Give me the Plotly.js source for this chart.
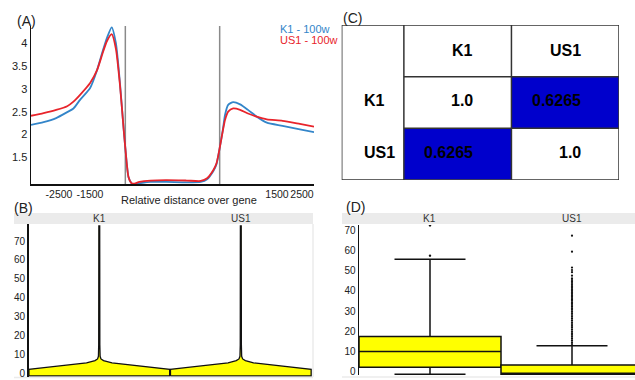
<!DOCTYPE html>
<html><head><meta charset="utf-8">
<script src="https://cdn.plot.ly/plotly-3.0.1.min.js"></script>
<style>html,body{margin:0;padding:0;background:#fff}#chart{width:635px;height:380px}</style>
</head><body><div id="chart"></div>
<script>
// ---------- Panel A: profile over gene ----------
const profileX = [-3000, -2600, -2200, -1850, -1650, -1440, -1120, -900, -710, -583, -434, -300, -170, -60, 0, 100, 200, 260, 450, 800, 1300, 1950, 2400, 2600, 2800, 2900, 3000, 3100, 3170, 3270, 3430, 3650, 3900, 4180, 4500, 5000, 5550, 6000];
const k1Profile = [2.21, 2.27, 2.36, 2.49, 2.57, 2.76, 3.02, 3.41, 3.85, 4.12, 4.35, 4.0, 3.12, 2.17, 1.70, 1.07, 0.93, 0.91, 0.93, 0.96, 0.96, 0.95, 0.96, 1.02, 1.20, 1.35, 1.70, 2.10, 2.43, 2.65, 2.71, 2.66, 2.54, 2.39, 2.26, 2.19, 2.11, 2.05];
const us1Profile = [2.41, 2.47, 2.54, 2.62, 2.72, 2.87, 3.13, 3.41, 3.81, 4.05, 4.20, 3.88, 3.08, 2.17, 1.70, 1.07, 0.93, 0.92, 0.96, 0.99, 1.00, 0.99, 0.98, 1.04, 1.22, 1.37, 1.70, 2.08, 2.32, 2.50, 2.57, 2.54, 2.46, 2.39, 2.33, 2.30, 2.23, 2.17];
const geneBounds = [0, 3000];
const profileTickVals = [-2110, -1124, 4824, 5619];
const profileTickText = ['-2500', '-1500', '1500', '2500'];
const profileYTicks = [1.5, 2, 2.5, 3, 3.5, 4];
const profileYText = ['1.5', '2', '2.5', '3', '3.5', '4'];
const seriesNames = ['K1 - 100w', 'US1 - 100w'];
const profileXTitle = 'Relative distance over gene';

// ---------- Panel B: violins ----------
const groups = ['K1', 'US1'];
const violinLevels = [-1.4, 2.1, 3.0, 4.2, 5.5, 6.7, 7.6, 9, 15, 78];
const k1ViolinHalfWidth = [0.497, 0.497, 0.39, 0.235, 0.09, 0.03, 0.012, 0.006, 0.004, 0.003];
const us1ViolinHalfWidth = [0.497, 0.497, 0.39, 0.235, 0.09, 0.032, 0.013, 0.006, 0.004, 0.003];
const countTicks = [0, 10, 20, 30, 40, 50, 60, 70];

// ---------- Panel C: correlation table ----------
const corrLabels = ['K1', 'US1'];
const corrMatrix = [[1.0, 0.6265], [0.6265, 1.0]];
const corrText = [['1.0', '0.6265'], ['0.6265', '1.0']];

// ---------- Panel D: boxplots ----------
const boxLower = [-1.3, -1.3];
const boxQ1 = [2.2, -1.3];
const boxMedian = [10, -0.9];
const boxQ3 = [17.5, 3.3];
const boxUpper = [55.7, 12.9];
const k1Outliers = [57.5, 72.5];
const us1Outliers = [67.4, 59.5, 51.6, 50.4, 49.3, 47.6, 46.2, 45.4, 44.6, 43.9, 43.1, 42.4, 41.6, 40.9, 40.1, 39.4, 38.6, 37.9, 37.2, 36.5, 35.8, 35.1, 34.4, 33.7, 33.0, 32.3, 31.5, 30.7, 29.9, 29.0, 28.1, 27.2, 26.3, 25.4, 24.5, 23.6, 22.7, 21.8, 20.9, 20.0, 19.1, 18.2, 17.3, 16.4, 15.5, 14.6, 13.7];

// ---------- helpers ----------
const W = 635, H = 380;
const px = v => v / W;
const py = v => 1 - v / H;
const FONT = 'Liberation Sans, Arial, sans-serif';
const BLUE = '#3385C9', RED = '#E8242B', YEL = '#FFFF00';

function violinPolygon(center, hw) {
  const xs = [], ys = [];
  for (let i = 0; i < violinLevels.length; i++) { xs.push(center - hw[i]); ys.push(violinLevels[i]); }
  for (let i = violinLevels.length - 1; i >= 0; i--) { xs.push(center + hw[i]); ys.push(violinLevels[i]); }
  xs.push(xs[0]); ys.push(ys[0]);
  return {xs, ys};
}

const traces = [];
// A
traces.push({type: 'scatter', mode: 'lines', x: profileX, y: k1Profile, name: seriesNames[0],
  line: {color: BLUE, width: 1.8, shape: 'spline', smoothing: 0.6}, xaxis: 'x', yaxis: 'y', hoverinfo: 'skip'});
traces.push({type: 'scatter', mode: 'lines', x: profileX, y: us1Profile, name: seriesNames[1],
  line: {color: RED, width: 1.8, shape: 'spline', smoothing: 0.6}, xaxis: 'x', yaxis: 'y', hoverinfo: 'skip'});
// B
[k1ViolinHalfWidth, us1ViolinHalfWidth].forEach((hw, i) => {
  const p = violinPolygon(i, hw);
  traces.push({type: 'scatter', mode: 'lines', x: p.xs, y: p.ys, fill: 'toself', fillcolor: YEL,
    line: {color: '#111', width: 1.3}, xaxis: 'x2', yaxis: 'y2', hoverinfo: 'skip', name: groups[i]});
});
// C
traces.push({type: 'heatmap', x: [0, 1], y: [0, 1], z: corrMatrix, zmin: 0.6265, zmax: 1,
  colorscale: [[0, '#0000CC'], [1, '#FFFFFF']], showscale: false, xaxis: 'x4', yaxis: 'y4', hoverinfo: 'skip'});
// D
traces.push({type: 'box', x: [0, 1], q1: boxQ1, median: boxMedian, q3: boxQ3, lowerfence: boxLower, upperfence: boxUpper,
  width: 1, whiskerwidth: 0.5, boxpoints: false, fillcolor: YEL, line: {color: '#111', width: 1.5},
  xaxis: 'x3', yaxis: 'y3', hoverinfo: 'skip'});
traces.push({type: 'scatter', mode: 'markers', x: k1Outliers.map(() => 0), y: k1Outliers,
  marker: {color: '#111', size: 2.4}, xaxis: 'x3', yaxis: 'y3', hoverinfo: 'skip'});
traces.push({type: 'scatter', mode: 'markers', x: us1Outliers.map(() => 1), y: us1Outliers,
  marker: {color: '#111', size: 2.2}, xaxis: 'x3', yaxis: 'y3', hoverinfo: 'skip'});

const annotations = [];
const shapes = [];
// panel letters
[['(A)', 15, 20.7], ['(B)', 12, 208], ['(C)', 340.7, 18], ['(D)', 344, 207]].forEach(a => {
  annotations.push({text: a[0], xref: 'paper', yref: 'paper', x: px(a[1]), y: py(a[2]), xanchor: 'left', yanchor: 'middle',
    showarrow: false, font: {family: FONT, size: 14, color: '#222'}});
});
// A axis title (placed precisely under the axis)
annotations.push({text: profileXTitle, xref: 'paper', yref: 'paper', x: px(189), y: py(199.5), xanchor: 'center', yanchor: 'middle',
  showarrow: false, font: {family: FONT, size: 11, color: '#222'}});
// legend A
annotations.push({text: seriesNames[0], xref: 'paper', yref: 'paper', x: px(278), y: py(29), xanchor: 'left', yanchor: 'middle', showarrow: false, font: {family: FONT, size: 11, color: BLUE}});
annotations.push({text: seriesNames[1], xref: 'paper', yref: 'paper', x: px(278), y: py(40), xanchor: 'left', yanchor: 'middle', showarrow: false, font: {family: FONT, size: 11, color: RED}});
// gene boundaries
geneBounds.forEach(g => shapes.push({type: 'line', xref: 'x', yref: 'y domain', x0: g, x1: g, y0: 0, y1: 1, line: {color: '#8a8a8a', width: 1.5}, layer: 'below'}));
// strips B and D
shapes.push({type: 'rect', xref: 'paper', yref: 'paper', x0: px(14), x1: px(313), y0: py(224), y1: py(213), fillcolor: '#EBEBEB', line: {width: 0}, layer: 'below'});
shapes.push({type: 'rect', xref: 'paper', yref: 'paper', x0: px(342), x1: 1, y0: py(224), y1: py(213), fillcolor: '#EBEBEB', line: {width: 0}, layer: 'below'});
shapes.push({type: 'line', xref: 'paper', yref: 'paper', x0: px(313), x1: px(313), y0: py(224), y1: py(377), line: {color: '#EBEBEB', width: 1.5}, layer: 'below'});
shapes.push({type: 'line', xref: 'paper', yref: 'paper', x0: px(14), x1: px(313), y0: py(377.5), y1: py(377.5), line: {color: '#EBEBEB', width: 1.5}, layer: 'below'});
shapes.push({type: 'line', xref: 'paper', yref: 'paper', x0: px(342), x1: 1, y0: py(377), y1: py(377), line: {color: '#EBEBEB', width: 1.5}, layer: 'below'});
groups.forEach((g, i) => {
  annotations.push({text: g, xref: 'x2', yref: 'paper', x: i, y: py(218.5), yanchor: 'middle', showarrow: false, font: {family: FONT, size: 10, color: '#333'}});
  annotations.push({text: g, xref: 'x3', yref: 'paper', x: i, y: py(218.5), yanchor: 'middle', showarrow: false, font: {family: FONT, size: 10, color: '#333'}});
});
// table C
const tL = -1.078, tR = 1.5, tT = -1.5, tB = 1.5;
const bl = {color: '#333', width: 1.5};
shapes.push({type: 'rect', xref: 'x4', yref: 'y4', x0: tL, x1: tR, y0: tT, y1: tB, line: bl, layer: 'above'});
[-0.5, 0.5].forEach(v => shapes.push({type: 'line', xref: 'x4', yref: 'y4', x0: v, x1: v, y0: tT, y1: tB, line: bl, layer: 'above'}));
[-0.5, 0.5].forEach(v => shapes.push({type: 'line', xref: 'x4', yref: 'y4', x0: -0.5, x1: tR, y0: v, y1: v, line: bl, layer: 'above'}));
const tf = {family: FONT, size: 16, color: '#000'};
corrLabels.forEach((lab, j) => {
  annotations.push({text: '<b>' + lab + '</b>', xref: 'x4', yref: 'y4', x: j + 0.165, y: -1, xanchor: 'right', yanchor: 'middle', showarrow: false, font: tf});
  annotations.push({text: '<b>' + lab + '</b>', xref: 'x4', yref: 'y4', x: tL + 0.185, y: j - 0.03, xanchor: 'left', yanchor: 'middle', showarrow: false, font: tf});
});
corrText.forEach((row, r) => row.forEach((t, c) => {
  annotations.push({text: '<b>' + t + '</b>', xref: 'x4', yref: 'y4', x: c + 0.165, y: r - 0.03, xanchor: 'right', yanchor: 'middle', showarrow: false, font: tf});
}));

const tickFont = {family: FONT, size: 10, color: '#222'};
const layout = {
  width: W, height: H, margin: {l: 0, r: 0, t: 0, b: 0}, showlegend: false,
  paper_bgcolor: '#fff', plot_bgcolor: 'rgba(0,0,0,0)', font: {family: FONT},
  xaxis: {domain: [px(31), px(314)], range: [-3000, 6000], anchor: 'y', tickvals: profileTickVals, ticktext: profileTickText, tickangle: 0,
    showline: true, linecolor: '#111', linewidth: 1.5, ticks: '', showgrid: false, zeroline: false, tickfont: {family: FONT, size: 10.5, color: '#222'}},
  yaxis: {domain: [py(184), py(26)], range: [0.914, 4.379], anchor: 'x', tickvals: profileYTicks, ticktext: profileYText,
    showline: true, linecolor: '#111', linewidth: 1.5, ticks: '', showgrid: false, zeroline: false, tickfont: {family: FONT, size: 11, color: '#222'}},
  xaxis2: {domain: [px(28.5), px(313)], range: [-0.5, 1.51], anchor: 'y2', showline: false, showticklabels: false, ticks: '', showgrid: false, zeroline: false},
  yaxis2: {domain: [py(376.7), py(224)], range: [-1.8, 79], anchor: 'x2', tickvals: countTicks, showline: true, linecolor: '#111', linewidth: 1.5,
    ticks: '', showgrid: false, zeroline: false, tickfont: tickFont},
  xaxis3: {domain: [px(359), 1], range: [-0.5, 1.4437], anchor: 'y3', showline: false, showticklabels: false, ticks: '', showgrid: false, zeroline: false},
  yaxis3: {domain: [py(375), py(225)], range: [-1.64, 72.7], anchor: 'x3', tickvals: countTicks, showline: true, linecolor: '#111', linewidth: 1.5,
    ticks: '', showgrid: false, zeroline: false, tickfont: tickFont},
  xaxis4: {domain: [px(341.7), px(619)], range: [tL, tR], anchor: 'y4', visible: false},
  yaxis4: {domain: [py(180), py(25)], range: [tB, tT], anchor: 'x4', visible: false},
  shapes: shapes, annotations: annotations
};
Plotly.newPlot('chart', traces, layout, {staticPlot: true, displayModeBar: false});
</script></body></html>
